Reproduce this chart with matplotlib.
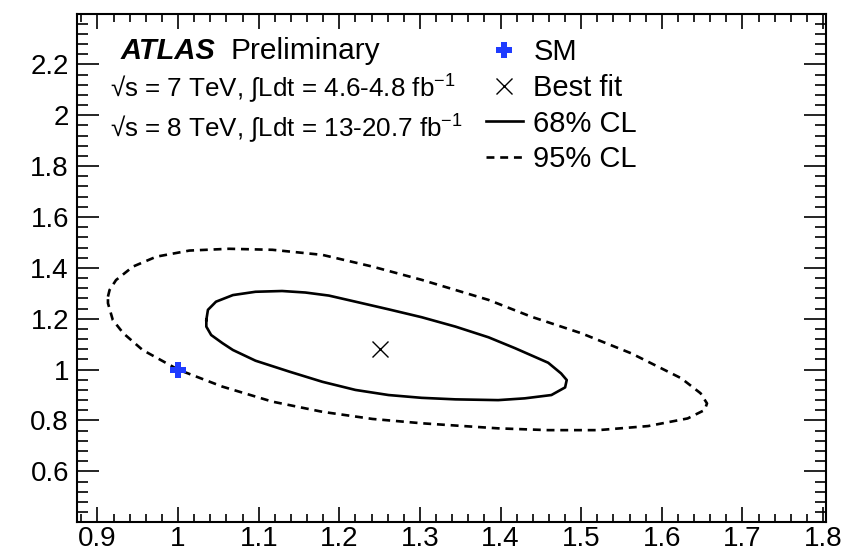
import matplotlib
matplotlib.use("Agg")
import matplotlib.pyplot as plt
from matplotlib.ticker import MultipleLocator
from matplotlib.lines import Line2D

plt.rcParams['font.family'] = ['Liberation Sans', 'DejaVu Sans']
plt.rcParams['mathtext.fontset'] = 'custom'
plt.rcParams['mathtext.rm'] = 'Liberation Sans'
plt.rcParams['mathtext.it'] = 'Liberation Sans:italic'

# Best-fit point and Standard Model expectation
sm_point = (1.0, 1.0)
best_fit = (1.25, 1.08)

# 68% CL contour
x68 = [1.035, 1.037, 1.047, 1.068, 1.096, 1.129, 1.158, 1.187, 1.220, 1.261,
       1.302, 1.344, 1.385, 1.418, 1.459, 1.475, 1.482, 1.480, 1.463, 1.430,
       1.397, 1.344, 1.302, 1.261, 1.220, 1.179, 1.138, 1.096, 1.068, 1.055,
       1.041, 1.035]
y68 = [1.195, 1.235, 1.267, 1.293, 1.306, 1.309, 1.303, 1.291, 1.267, 1.237,
       1.206, 1.169, 1.127, 1.084, 1.027, 0.985, 0.959, 0.930, 0.900, 0.887,
       0.880, 0.883, 0.889, 0.900, 0.920, 0.952, 0.992, 1.035, 1.077, 1.104,
       1.136, 1.169]

# 95% CL contour
x95 = [0.913, 0.915, 0.923, 0.944, 0.973, 1.014, 1.063, 1.117, 1.179, 1.241,
       1.302, 1.385, 1.438, 1.500, 1.562, 1.624, 1.648, 1.656, 1.653, 1.632,
       1.583, 1.521, 1.459, 1.397, 1.335, 1.302, 1.241, 1.179, 1.117, 1.055,
       1.000, 0.956, 0.932, 0.919, 0.913]
y95 = [1.287, 1.313, 1.352, 1.405, 1.444, 1.468, 1.475, 1.471, 1.451, 1.405,
       1.353, 1.274, 1.208, 1.143, 1.064, 0.966, 0.907, 0.867, 0.841, 0.808,
       0.778, 0.762, 0.762, 0.769, 0.782, 0.789, 0.806, 0.834, 0.874, 0.933,
       1.000, 1.077, 1.143, 1.195, 1.261]

xlim = (0.875, 1.803)
ylim = (0.402, 2.398)

SM_BLUE = '#1f3cff'
DASH = (3.0, 2.2)

fig = plt.figure(figsize=(8.46, 5.54), dpi=100)
ax = fig.add_axes([0.0914, 0.0583, 0.9758 - 0.0914, 0.9747 - 0.0583])

ax.plot(x68 + x68[:1], y68 + y68[:1], color='black', lw=1.9, solid_joinstyle='round')
ax.plot(x95 + x95[:1], y95 + y95[:1], color='black', lw=1.9, dashes=DASH)
ax.plot([best_fit[0]], [best_fit[1]], marker='x', color='black', ms=11, mew=1.0, ls='none')
ax.plot([sm_point[0]], [sm_point[1]], marker='P', color=SM_BLUE, ms=11, mew=0, ls='none')

ax.set_xlim(*xlim)
ax.set_ylim(*ylim)

ax.xaxis.set_major_locator(MultipleLocator(0.1))
ax.xaxis.set_minor_locator(MultipleLocator(0.02))
ax.yaxis.set_major_locator(MultipleLocator(0.2))
ax.yaxis.set_minor_locator(MultipleLocator(0.04))
ax.xaxis.set_major_formatter(plt.FuncFormatter(lambda v, p: f"{v:g}"))
ax.yaxis.set_major_formatter(plt.FuncFormatter(lambda v, p: f"{v:g}"))

ax.tick_params(axis='both', which='both', direction='in', top=True, right=True,
               width=1.2)
ax.tick_params(axis='x', which='major', length=10.8, pad=3.0, labelsize=20)
ax.tick_params(axis='x', which='minor', length=5.6)
ax.tick_params(axis='y', which='major', length=15.8, pad=6, labelsize=20)
ax.tick_params(axis='y', which='minor', length=8.2)
for s in ax.spines.values():
    s.set_linewidth(1.5)

# Experiment labels
ax.text(0.058, 0.912, 'ATLAS', transform=ax.transAxes, fontsize=21,
        fontweight='bold', fontstyle='italic', va='baseline')
ax.text(0.205, 0.912, 'Preliminary', transform=ax.transAxes, fontsize=21.5,
        va='baseline')
ax.text(0.044, 0.8365, '√s = 7 TeV, ∫Ldt = 4.6-4.8 fb$^{-1}$', transform=ax.transAxes,
        fontsize=18.7, va='baseline')
ax.text(0.044, 0.758, '√s = 8 TeV, ∫Ldt = 13-20.7 fb$^{-1}$', transform=ax.transAxes,
        fontsize=18.7, va='baseline')

handles = [
    Line2D([], [], marker='P', color=SM_BLUE, ms=11, mew=0, ls='none'),
    Line2D([], [], marker='x', color='black', ms=11, mew=1.0, ls='none'),
    Line2D([], [], color='black', lw=1.9),
    Line2D([], [], color='black', lw=1.9, dashes=DASH),
]
labels = ['SM', 'Best fit', '68% CL', '95% CL']
ax.legend(handles, labels, loc='upper left', bbox_to_anchor=(0.53, 0.975),
          frameon=False, fontsize=21, handlelength=1.3, handletextpad=0.34,
          labelspacing=0.26, borderaxespad=0)

fig.savefig('out.png', dpi=100)
